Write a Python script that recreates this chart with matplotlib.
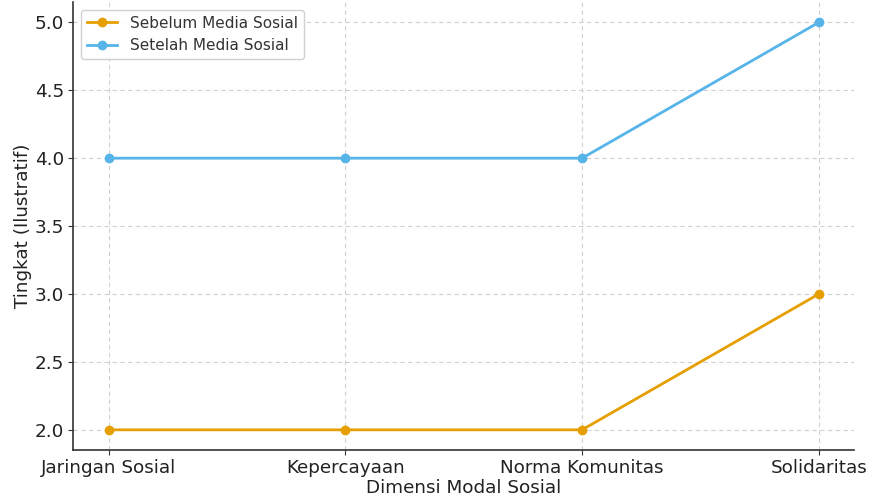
import matplotlib
matplotlib.use("Agg")
import matplotlib.pyplot as plt

plt.rcParams["font.family"] = ["DejaVu Sans"]

categories = ["Jaringan Sosial", "Kepercayaan", "Norma Komunitas", "Solidaritas"]
sebelum = [2, 2, 2, 3]
setelah = [4, 4, 4, 5]

fig = plt.figure(figsize=(8.7, 4.98), dpi=100)
ax = fig.add_axes([0.084, 0.096, 0.898, 0.90])
x = range(len(categories))
ax.plot(x, sebelum, marker="o", color="#E69F00", lw=2, ms=6, label="Sebelum Media Sosial")
ax.plot(x, setelah, marker="o", color="#56B4E9", lw=2, ms=6, label="Setelah Media Sosial")
ax.set_xticks(list(x))
ax.set_xticklabels(categories)
ax.tick_params(labelsize=13.2, colors="#333333", labelcolor="#222222", pad=3)
ax.set_xlabel("Dimensi Modal Sosial", fontsize=13.2, color="#222222", labelpad=1)
ax.set_ylabel("Tingkat (Ilustratif)", fontsize=13.2, color="#222222", labelpad=2)
ax.grid(True, linestyle=(0, (4, 3)), color="#d0d0d0", lw=0.8)
for s in ["top", "right"]:
    ax.spines[s].set_visible(False)
for s in ["left", "bottom"]:
    ax.spines[s].set_color("#333333")
    ax.spines[s].set_linewidth(1.2)
leg = ax.legend(loc="upper left", fontsize=11, framealpha=0.9, edgecolor="#cccccc")
for t in leg.get_texts():
    t.set_color("#333333")
fig.savefig("out.png", dpi=100)
